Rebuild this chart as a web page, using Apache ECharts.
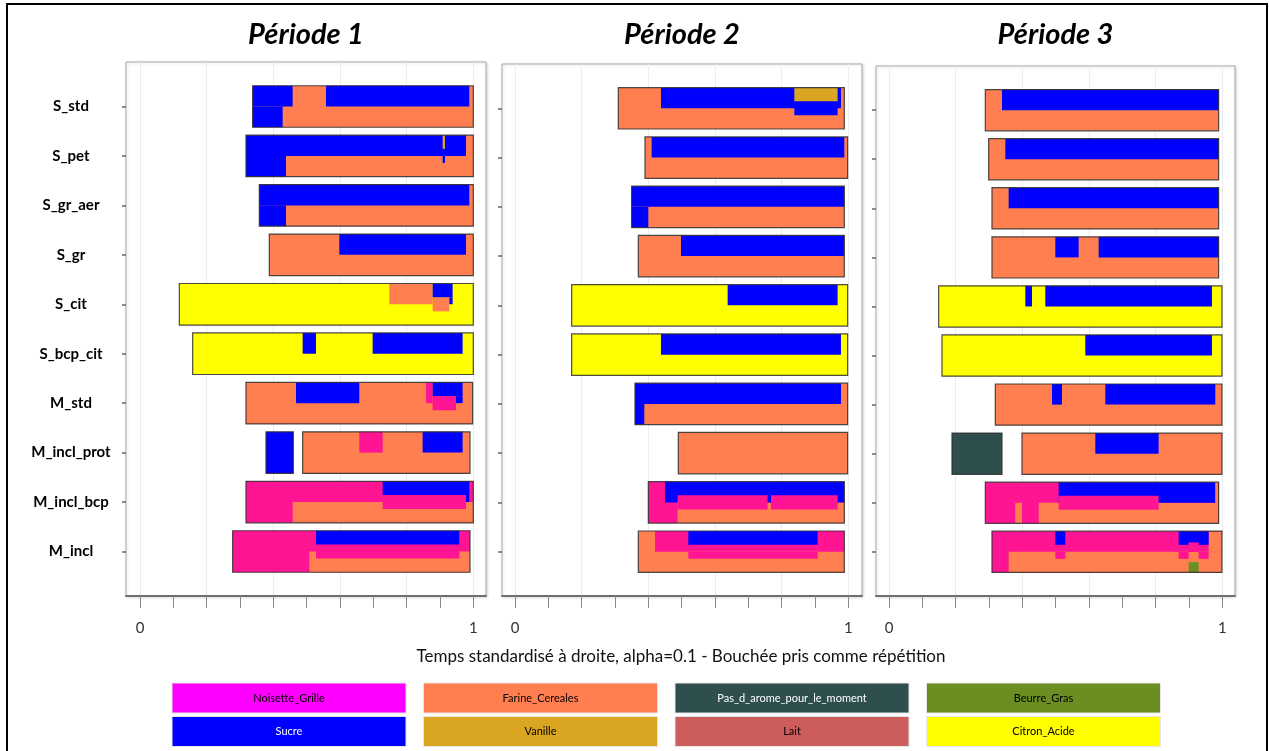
<!DOCTYPE html>
<html>
<head>
<meta charset="utf-8">
<script src="https://cdn.jsdelivr.net/npm/echarts@6/dist/echarts.min.js"></script>
<style>
html,body{margin:0;padding:0;background:#fff;}
#chart{width:1269px;height:751px;}
</style>
</head>
<body>
<div id="chart"></div>
<script>
// ---------- DATA ----------
const products = ['S_std','S_pet','S_gr_aer','S_gr','S_cit','S_bcp_cit','M_std','M_incl_prot','M_incl_bcp','M_incl'];
const periodTitles = ['Période 1','Période 2','Période 3'];
const xTickLabels = {0:'0', 1:'1'};
const xAxisName = 'Temps standardisé à droite, alpha=0.1 - Bouchée pris comme répétition';

const attrKeys   = ['NG','FC','PA','BG','SU','VA','LA','CA'];
const attrNames  = ['Noisette_Grille','Farine_Cereales','Pas_d_arome_pour_le_moment','Beurre_Gras','Sucre','Vanille','Lait','Citron_Acide'];
const plotColors = ['#FF1493','#FF7F50','#2F4F4F','#6B8E23','#0000FF','#DAA520','#CD5C5C','#FFFF00'];
const legendColors = ['#FF00FF','#FF7F50','#2F4F4F','#6B8E23','#0000FF','#DAA520','#CD5C5C','#FFFF00'];
const legendTextColors = ['#000','#000','#fff','#000','#fff','#000','#000','#000'];

// bands: [product, start, end, base attribute]
const bands1 = [
  ['S_std',0.338,1.0,'FC'],['S_pet',0.318,1.0,'FC'],['S_gr_aer',0.358,1.0,'FC'],['S_gr',0.388,1.0,'FC'],
  ['S_cit',0.118,1.0,'CA'],['S_bcp_cit',0.158,1.0,'CA'],['M_std',0.318,0.998,'FC'],
  ['M_incl_prot',0.378,0.46,'SU'],['M_incl_prot',0.488,0.99,'FC'],
  ['M_incl_bcp',0.318,1.0,'NG'],['M_incl',0.278,0.99,'NG']
];
// overlays: [product, start, end, from (fraction of band height, top=0), to, attribute]
const over1 = [
  ['S_std',0.338,0.458,0,0.5,'SU'],['S_std',0.338,0.428,0.5,1,'SU'],['S_std',0.558,0.988,0,0.5,'SU'],
  ['S_pet',0.318,0.978,0,0.5,'SU'],['S_pet',0.318,0.438,0.5,1,'SU'],['S_pet',0.908,0.915,0,0.33,'VA'],['S_pet',0.908,0.915,0.5,0.67,'SU'],
  ['S_gr_aer',0.358,0.988,0,0.5,'SU'],['S_gr_aer',0.358,0.438,0.5,1,'SU'],
  ['S_gr',0.598,0.978,0,0.5,'SU'],
  ['S_cit',0.748,0.878,0,0.5,'FC'],['S_cit',0.878,0.928,0.33,0.67,'FC'],['S_cit',0.878,0.938,0,0.33,'SU'],['S_cit',0.928,0.938,0.33,0.5,'SU'],
  ['S_bcp_cit',0.488,0.528,0,0.5,'SU'],['S_bcp_cit',0.698,0.968,0,0.5,'SU'],
  ['M_std',0.468,0.658,0,0.5,'SU'],['M_std',0.858,0.878,0,0.5,'NG'],['M_std',0.878,0.948,0.33,0.67,'NG'],['M_std',0.878,0.968,0,0.33,'SU'],['M_std',0.948,0.968,0.33,0.5,'SU'],
  ['M_incl_prot',0.658,0.728,0,0.5,'NG'],['M_incl_prot',0.848,0.968,0,0.5,'SU'],
  ['M_incl_bcp',0.458,1.0,0.5,1,'FC'],['M_incl_bcp',0.728,0.978,0.5,0.67,'NG'],['M_incl_bcp',0.728,0.988,0,0.33,'SU'],['M_incl_bcp',0.978,0.988,0.33,0.5,'SU'],
  ['M_incl',0.508,0.99,0.5,1,'FC'],['M_incl',0.528,0.958,0.33,0.67,'NG'],['M_incl',0.528,0.958,0,0.33,'SU']
];

const bands2 = [
  ['S_std',0.31,0.988,'FC'],['S_pet',0.39,0.998,'FC'],['S_gr_aer',0.35,0.988,'FC'],['S_gr',0.37,0.988,'FC'],
  ['S_cit',0.17,0.998,'CA'],['S_bcp_cit',0.17,0.998,'CA'],['M_std',0.36,0.998,'FC'],
  ['M_incl_prot',0.49,0.998,'FC'],['M_incl_bcp',0.40,0.988,'NG'],['M_incl',0.37,0.988,'FC']
];
const over2 = [
  ['S_std',0.438,0.978,0,0.5,'SU'],['S_std',0.838,0.968,0.33,0.67,'SU'],['S_std',0.838,0.968,0,0.33,'VA'],
  ['S_pet',0.41,0.988,0,0.5,'SU'],
  ['S_gr_aer',0.35,0.988,0,0.5,'SU'],['S_gr_aer',0.35,0.40,0.5,1,'SU'],
  ['S_gr',0.498,0.988,0,0.5,'SU'],
  ['S_cit',0.638,0.968,0,0.5,'SU'],
  ['S_bcp_cit',0.438,0.978,0,0.5,'SU'],
  ['M_std',0.36,0.978,0,0.5,'SU'],['M_std',0.36,0.388,0.5,1,'SU'],
  ['M_incl_bcp',0.488,0.988,0.5,1,'FC'],['M_incl_bcp',0.45,0.988,0,0.5,'SU'],['M_incl_bcp',0.488,0.758,0.33,0.67,'NG'],['M_incl_bcp',0.768,0.968,0.33,0.67,'NG'],
  ['M_incl',0.42,0.988,0,0.5,'NG'],['M_incl',0.52,0.908,0.5,0.67,'NG'],['M_incl',0.52,0.908,0,0.33,'SU']
];

const bands3 = [
  ['S_std',0.289,0.989,'FC'],['S_pet',0.299,0.989,'FC'],['S_gr_aer',0.309,0.989,'FC'],['S_gr',0.309,0.989,'FC'],
  ['S_cit',0.149,0.999,'CA'],['S_bcp_cit',0.159,0.999,'CA'],['M_std',0.319,0.999,'FC'],
  ['M_incl_prot',0.189,0.339,'PA'],['M_incl_prot',0.399,0.999,'FC'],
  ['M_incl_bcp',0.289,0.989,'NG'],['M_incl',0.309,0.999,'NG']
];
const over3 = [
  ['S_std',0.339,0.989,0,0.5,'SU'],
  ['S_pet',0.349,0.989,0,0.5,'SU'],
  ['S_gr_aer',0.359,0.989,0,0.5,'SU'],
  ['S_gr',0.499,0.569,0,0.5,'SU'],['S_gr',0.629,0.989,0,0.5,'SU'],
  ['S_cit',0.409,0.429,0,0.5,'SU'],['S_cit',0.469,0.969,0,0.5,'SU'],
  ['S_bcp_cit',0.589,0.969,0,0.5,'SU'],
  ['M_std',0.489,0.519,0,0.5,'SU'],['M_std',0.649,0.979,0,0.5,'SU'],
  ['M_incl_prot',0.619,0.809,0,0.5,'SU'],
  ['M_incl_bcp',0.379,0.399,0.5,1,'FC'],['M_incl_bcp',0.449,0.989,0.5,1,'FC'],['M_incl_bcp',0.509,0.979,0,0.5,'SU'],['M_incl_bcp',0.509,0.809,0.33,0.67,'NG'],['M_incl_bcp',0.979,0.989,0,0.5,'FC'],
  ['M_incl',0.359,0.999,0.5,1,'FC'],['M_incl',0.959,0.999,0,0.5,'FC'],
  ['M_incl',0.499,0.529,0.5,0.67,'NG'],['M_incl',0.869,0.899,0.5,0.67,'NG'],['M_incl',0.929,0.959,0.5,0.67,'NG'],
  ['M_incl',0.499,0.529,0,0.33,'SU'],['M_incl',0.869,0.959,0,0.33,'SU'],['M_incl',0.899,0.929,0.27,0.5,'NG'],
  ['M_incl',0.899,0.929,0.75,1,'BG']
];

const periods = [[bands1,over1],[bands2,over2],[bands3,over3]];

// ---------- LAYOUT ----------
const frames = [
  {left:126, right:486, top:62, bottom:596, x0:140},
  {left:502, right:862, top:64, bottom:596, x0:515},
  {left:876, right:1235, top:66, bottom:596, x0:889}
];
const unitW = 333.3;
const yMin = -0.9, yMax = 9.9;
const BAND = 0.84;
const FONT = 'Lato, "Open Sans", sans-serif';

function buildData(bands, overs){
  const out = [];
  bands.forEach(b => out.push([products.indexOf(b[0]), b[1], b[2], 0, 1, attrKeys.indexOf(b[3]), 0]));
  overs.forEach(o => out.push([products.indexOf(o[0]), o[1], o[2], o[3], o[4], attrKeys.indexOf(o[5]), 0]));
  bands.forEach(b => out.push([products.indexOf(b[0]), b[1], b[2], 0, 1, attrKeys.indexOf(b[3]), 1]));
  return out;
}

function renderItem(params, api){
  const p = api.value(0), t0 = api.value(1), t1 = api.value(2);
  const f0 = api.value(3), f1 = api.value(4), ci = api.value(5), kind = api.value(6);
  const a = api.coord([t0, p]);
  const b = api.coord([t1, p]);
  const bh = Math.abs(api.size([0, 1])[1]) * BAND;
  const top = a[1] - bh / 2;
  const shape = {x: a[0], y: top + f0 * bh, width: b[0] - a[0], height: (f1 - f0) * bh};
  if (kind === 1) {
    return {type:'rect', shape, style:{fill:null, stroke:'rgba(45,45,45,0.85)', lineWidth:1.2}};
  }
  return {type:'rect', shape, style:{fill: plotColors[ci]}};
}

const grid = [], xAxis = [], yAxis = [], series = [], graphic = [];

frames.forEach((f, p) => {
  const H = f.bottom - f.top;
  const spacing = H / (yMax - yMin);
  const c0 = f.top + (0 - yMin) * spacing;
  grid.push({left:f.left, top:f.top, width:f.right - f.left, height:H, show:true,
             borderColor:'#a8a8a8', borderWidth:1, backgroundColor:'#fff',
             shadowColor:'rgba(0,0,0,0.15)', shadowBlur:3, shadowOffsetX:1, shadowOffsetY:1});
  grid.push({left:f.x0, top:f.top, width:unitW, height:H, show:false});
  grid.push({left:f.left, top:c0 - spacing / 2, width:10, height:spacing * 10, show:false});

  const gF = 3 * p, gD = 3 * p + 1, gT = 3 * p + 2;
  xAxis.push({type:'value', gridIndex:gF, min:0, max:1, position:'bottom',
              axisLine:{show:true, onZero:false, lineStyle:{color:'#6e6e6e', width:2}},
              axisTick:{show:false}, axisLabel:{show:false}, splitLine:{show:false}});
  xAxis.push({type:'value', gridIndex:gD, min:0, max:1, interval:0.1, position:'bottom',
              axisLine:{show:false, onZero:false}, axisTick:{show:true, length:12, lineStyle:{color:'#8a8a8a', width:1}},
              axisLabel:{show:true, margin:25, fontFamily:FONT, fontSize:15, color:'#333',
                         formatter: v => { const r = Math.round(v * 1000) / 1000; return xTickLabels[r] !== undefined ? xTickLabels[r] : ''; }},
              splitLine:{show:false}});
  xAxis.push({type:'value', gridIndex:gD, min:0, max:1, interval:0.2, position:'bottom', show:true,
              axisLine:{show:false, onZero:false}, axisTick:{show:false}, axisLabel:{show:false},
              splitLine:{show:true, lineStyle:{color:'#ececec', width:1}}});
  xAxis.push({type:'value', gridIndex:gT, show:false});
  yAxis.push({type:'value', gridIndex:gF, show:false});
  yAxis.push({type:'value', gridIndex:gD, min:yMin, max:yMax, inverse:true, show:false});
  yAxis.push({type:'category', gridIndex:gT, data:products, inverse:true,
              axisLine:{show:false},
              axisTick:{show:true, alignWithLabel:true, length:4, lineStyle:{color:'#666', width:1.5}},
              axisLabel:{show: p === 0, align:'center', margin:55, fontFamily:FONT, fontWeight:'bold',
                         fontSize:15, color:'#000', padding:[0,0,14,0]}});

  series.push({type:'custom', xAxisIndex:4 * p + 1, yAxisIndex:3 * p + 1,
               renderItem, encode:{x:[1,2], y:0}, data:buildData(periods[p][0], periods[p][1]),
               silent:true, animation:false, clip:false});

  graphic.push({type:'text', x:(f.left + f.right) / 2, y:35, z:10,
                style:{text:periodTitles[p], font:'italic bold 29px ' + FONT, fill:'#000',
                       align:'center', verticalAlign:'middle'}});
});

graphic.push({type:'text', x:681, y:657, z:10,
              style:{text:xAxisName, font:'17px ' + FONT, fill:'#111', align:'center', verticalAlign:'middle'}});

attrNames.forEach((name, i) => {
  const col = i % 4, row = Math.floor(i / 4);
  const x = 172 + col * 251.5, y = 683 + row * 33.5;
  graphic.push({type:'rect', x:0, y:0, z:10, shape:{x:x, y:y, width:234, height:30},
                style:{fill:legendColors[i], stroke:'#e6e6e6', lineWidth:1}});
  graphic.push({type:'text', x:x + 117, y:y + 15, z:11,
                style:{text:name, font:'11px "Liberation Sans Narrow", ' + FONT, fill:legendTextColors[i],
                       align:'center', verticalAlign:'middle'}});
});

graphic.push({type:'rect', z:20, shape:{x:7, y:4, width:1260, height:770},
              style:{fill:null, stroke:'#000', lineWidth:2}});

const chart = echarts.init(document.getElementById('chart'), null, {renderer:'canvas'});
chart.setOption({animation:false, backgroundColor:'#fff', grid, xAxis, yAxis, series, graphic});
</script>
</body>
</html>
